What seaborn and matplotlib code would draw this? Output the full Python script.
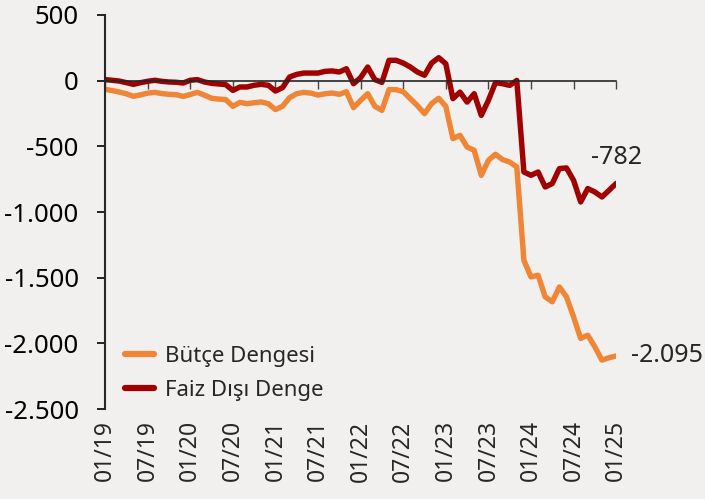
import numpy as np
import pandas as pd
import seaborn as sns
import matplotlib.pyplot as plt
from matplotlib.ticker import FuncFormatter

# monthly data, 01/19 - 01/25 (billion TL, 12-month rolling)
months = pd.date_range('2019-01-01', '2025-01-01', freq='MS')

butce = [-66, -75, -86, -100, -119, -108, -95, -89, -98, -104,
         -106, -120, -105, -89, -110, -134, -140, -144, -195, -165,
         -175, -168, -162, -175, -220, -195, -129, -99, -89, -95,
         -109, -100, -94, -104, -84, -205, -150, -99, -195, -226,
         -68, -68, -84, -137, -190, -251, -175, -134, -195, -441,
         -416, -505, -530, -720, -606, -560, -601, -619, -657, -1367,
         -1493, -1481, -1645, -1683, -1570, -1645, -1798, -1962, -1937, -2026,
         -2127, -2108, -2095]

faiz_disi = [8, 3, -3, -15, -28, -15, -5, 3, -5, -10,
             -12, -18, 3, 8, -10, -20, -25, -30, -74, -48,
             -48, -35, -28, -35, -79, -53, 28, 48, 58, 58,
             58, 71, 74, 66, 91, -23, 23, 104, 8, -13,
             155, 155, 134, 104, 66, 41, 134, 175, 129, -137,
             -87, -163, -99, -264, -150, -15, -23, -36, 2, -695,
             -720, -695, -809, -783, -669, -664, -758, -923, -821, -847,
             -885, -834, -782]

series_names = ['Bütçe Dengesi', 'Faiz Dışı Denge']
tick_labels = ['01/19', '07/19', '01/20', '07/20', '01/21', '07/21', '01/22',
               '07/22', '01/23', '07/23', '01/24', '07/24', '01/25']
y_ticks = [500, 0, -500, -1000, -1500, -2000, -2500]

df = pd.DataFrame({'month': months, 'idx': np.arange(len(months)),
                   series_names[0]: butce, series_names[1]: faiz_disi})
df_long = df.melt(id_vars=['month', 'idx'], value_vars=series_names,
                  var_name='seri', value_name='deger')

sns.set_style('white')
plt.rcParams['font.family'] = ['Noto Sans', 'DejaVu Sans']

bg = '#f2f0ef'
colors = {'Bütçe Dengesi': '#f08536', 'Faiz Dışı Denge': '#a00000'}

fig = plt.figure(figsize=(7.05, 4.99), dpi=100, facecolor=bg)
ax = fig.add_axes([0.149, 0.180, 0.725, 0.790], facecolor=bg)

sns.lineplot(data=df_long, x='idx', y='deger', hue='seri', palette=colors,
             linewidth=3.9, ax=ax)

ax.set_xlim(0, len(months) - 1)
ax.set_ylim(-2500, 500)

def tr_fmt(v, pos=None):
    return f'{v:,.0f}'.replace(',', '.')

ax.set_yticks(y_ticks)
ax.yaxis.set_major_formatter(FuncFormatter(tr_fmt))
ax.tick_params(axis='y', direction='out', length=6, width=1.2, colors='black',
               labelsize=18.5, pad=13, left=True)

# category axis crossing at zero
tick_pos = df['idx'][::6].to_numpy()
ax.spines['bottom'].set_position(('data', 0))
ax.set_xticks(tick_pos)
ax.tick_params(axis='x', direction='out', length=6, width=1.0, colors='#444444',
               labelbottom=False, bottom=True)
for s in ['top', 'right']:
    ax.spines[s].set_visible(False)
ax.spines['left'].set_linewidth(1.5)
ax.spines['bottom'].set_linewidth(1.2)

sec = ax.secondary_xaxis('bottom')
sec.set_xticks(tick_pos, tick_labels, rotation=90)
sec.tick_params(length=0, labelsize=16.5, pad=8)
sec.spines['bottom'].set_visible(False)

ax.set_xlabel('')
ax.set_ylabel('')

# end labels
last = df.iloc[-1]
ax.annotate(tr_fmt(last[series_names[1]]), (last['idx'], last[series_names[1]]),
            xytext=(0, 19), textcoords='offset points', ha='center', va='center',
            fontsize=18)
ax.annotate(tr_fmt(last[series_names[0]]), (last['idx'], last[series_names[0]]),
            xytext=(11, 0), textcoords='offset points', ha='left', va='center',
            fontsize=18, annotation_clip=False)

leg = ax.legend(loc='lower left', bbox_to_anchor=(0.022, -0.002), frameon=False,
                fontsize=16, handlelength=1.3, handletextpad=0.5,
                labelspacing=0.6, borderaxespad=0.0)
for line in leg.get_lines():
    line.set_linewidth(4.5)

fig.savefig('out.png', dpi=100, facecolor=bg)
